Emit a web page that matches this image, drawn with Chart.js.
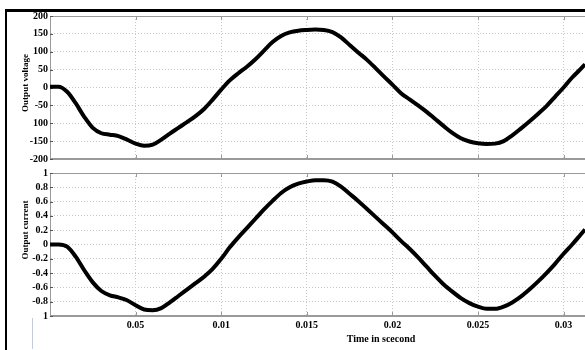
<!DOCTYPE html>
<html>
<head>
<meta charset="utf-8">
<script src="https://cdn.jsdelivr.net/npm/chart.js@4.4.1/dist/chart.umd.min.js"></script>
<style>
html, body { margin: 0; padding: 0; background: #fff; overflow: hidden; }
#wrap { position: relative; width: 585px; height: 350px; }
canvas { position: absolute; left: 0; }
#chartVolt { top: 0; }
#chartCurr { top: 165px; }
.bar { position: absolute; background: #000; z-index: 5; }
.title { position: absolute; font: bold 9px "Liberation Serif", serif; color: #000; white-space: nowrap; }
.ytitle { transform: translate(-50%, -50%) rotate(-90deg); }
.xtitle { transform: translate(-50%, -50%); font-size: 10px; }
</style>
</head>
<body>
<div id="wrap">
    <canvas id="chartVolt" width="585" height="170"></canvas>
    <canvas id="chartCurr" width="585" height="185"></canvas>
    <div class="bar" style="left:5px; top:9px; width:580px; height:3px;"></div>
    <div class="bar" style="left:5px; top:9px; width:2px; height:341px;"></div>
    <div style="position:absolute; left:32px; top:318px; width:1px; height:31px; background:#b9cce8;"></div>
    <div class="title ytitle" style="left:25px; top:83px;">Output voltage</div>
    <div class="title ytitle" style="left:25px; top:230px;">Output current</div>
    <div class="title xtitle" style="left:381px; top:338px;">Time in scecond</div>
</div>
<script>
const time = [0, 0.0005, 0.001, 0.0015, 0.002, 0.0025, 0.003, 0.0035, 0.004, 0.0045,
    0.005, 0.0055, 0.006, 0.0065, 0.007, 0.0075, 0.008, 0.0085, 0.009, 0.0095,
    0.01, 0.0105, 0.011, 0.0115, 0.012, 0.0125, 0.013, 0.0135, 0.014, 0.0145,
    0.015, 0.0155, 0.016, 0.0165, 0.017, 0.0175, 0.018, 0.0185, 0.019, 0.0195,
    0.02, 0.0205, 0.021, 0.0215, 0.022, 0.0225, 0.023, 0.0235, 0.024, 0.0245,
    0.025, 0.0255, 0.026, 0.0265, 0.027, 0.0275, 0.028, 0.0285, 0.029, 0.0295,
    0.03, 0.0305, 0.031, 0.03125];

const voltage = [2, 2, -12, -44, -82, -113, -128, -132, -136, -146,
    -157, -163, -160, -146, -129, -113, -97, -80, -60, -34,
    -6, 20, 40, 58, 79, 103, 127, 144, 154, 159,
    161, 162, 161, 155, 140, 119, 98, 78, 55, 31,
    8, -16, -33, -50, -68, -88, -108, -127, -142, -151,
    -156, -158, -157, -150, -134, -115, -95, -74, -52, -26,
    0, 28, 52, 65];

const current = [0, 0, -0.03, -0.17, -0.36, -0.53, -0.65, -0.71, -0.74, -0.78,
    -0.85, -0.91, -0.92, -0.89, -0.81, -0.72, -0.63, -0.54, -0.45, -0.34,
    -0.20, -0.04, 0.10, 0.23, 0.36, 0.49, 0.61, 0.72, 0.80, 0.85,
    0.88, 0.90, 0.90, 0.88, 0.81, 0.71, 0.61, 0.50, 0.39, 0.28,
    0.17, 0.05, -0.06, -0.18, -0.31, -0.44, -0.56, -0.66, -0.75, -0.82,
    -0.87, -0.90, -0.90, -0.87, -0.81, -0.73, -0.63, -0.52, -0.40, -0.27,
    -0.13, 0.00, 0.14, 0.21];

const xTicks = [0.005, 0.01, 0.015, 0.02, 0.025, 0.03];
const xTickLabels = ['0.05', '0.01', '0.015', '0.02', '0.025', '0.03'];
const voltTicks = [200, 150, 100, 50, 0, -50, -100, -150, -200];
const voltTickLabels = ['200', '150', '100', '50', '0', '-50', '100', '-150', '-200'];
const currTicks = [1, 0.8, 0.6, 0.4, 0.2, 0, -0.2, -0.4, -0.6, -0.8, -1];
const currTickLabels = ['1', '0.8', '0.6', '0.4', '0.2', '0', '-0.2', '-0.4', '-0.6', '-0.8', '1'];

const tickFont = { family: '"Liberation Serif", serif', size: 10, weight: 'bold' };

// box round the axes plus the little inward ticks
const boxTicks = {
    id: 'boxTicks',
    beforeDatasetsDraw(chart) {
        const { ctx, chartArea: a, scales } = chart;
        ctx.save();
        ctx.lineWidth = 1;
        ctx.strokeStyle = '#9a9a9a';
        ctx.strokeRect(a.left + 0.5, a.top + 0.5, a.right - a.left, a.bottom - a.top - 1);
        ctx.beginPath();
        scales.x.ticks.forEach(t => {
            const x = Math.round(scales.x.getPixelForValue(t.value)) + 0.5;
            ctx.moveTo(x, a.top); ctx.lineTo(x, a.top + 4);
            ctx.moveTo(x, a.bottom); ctx.lineTo(x, a.bottom - 4);
        });
        ctx.stroke();
        ctx.strokeStyle = '#555';
        ctx.beginPath();
        scales.y.ticks.forEach(t => {
            const y = Math.round(scales.y.getPixelForValue(t.value)) + 0.5;
            ctx.moveTo(a.left, y); ctx.lineTo(a.left + 3, y);
        });
        ctx.stroke();
        ctx.restore();
    }
};

function makeChart(id, values, yTicks, yLabels, showXLabels, padding) {
    const ctx = document.getElementById(id);
    return new Chart(ctx, {
        type: 'line',
        data: {
            datasets: [{
                data: time.map((t, i) => ({ x: t, y: values[i] })),
                borderColor: '#000',
                borderWidth: 4,
                pointRadius: 0,
                cubicInterpolationMode: 'monotone',
                fill: false
            }]
        },
        options: {
            responsive: false,
            animation: false,
            layout: { padding: padding },
            plugins: { legend: { display: false }, tooltip: { enabled: false } },
            scales: {
                x: {
                    type: 'linear',
                    min: 0,
                    max: 0.03125,
                    afterBuildTicks: s => { s.ticks = xTicks.map(v => ({ value: v })); },
                    afterFit: s => { s.height = showXLabels ? 20 : 0; },
                    grid: { color: '#c8c8c8', drawTicks: false },
                    border: { color: '#9a9a9a', dash: [1, 2] },
                    ticks: {
                        display: showXLabels,
                        autoSkip: false,
                        padding: 3,
                        maxRotation: 0,
                        color: '#000',
                        font: tickFont,
                        callback: (v, i) => xTickLabels[i]
                    }
                },
                y: {
                    min: yTicks[yTicks.length - 1],
                    max: yTicks[0],
                    afterBuildTicks: s => { s.ticks = yTicks.map(v => ({ value: v })); },
                    afterFit: s => { s.width = 50; },
                    grid: { color: '#c8c8c8', drawTicks: false },
                    border: { color: '#9a9a9a', dash: [1, 2] },
                    ticks: {
                        autoSkip: false,
                        padding: 2,
                        color: '#000',
                        font: tickFont,
                        callback: (v, i) => yLabels[i]
                    }
                }
            }
        },
        plugins: [boxTicks]
    });
}

document.addEventListener('DOMContentLoaded', function() {
    makeChart('chartVolt', voltage, voltTicks, voltTickLabels, false, { top: 16, bottom: 11, left: 0, right: 0 });
    makeChart('chartCurr', current, currTicks, currTickLabels, true, { top: 8, bottom: 14, left: 0, right: 0 });
});
</script>
</body>
</html>
